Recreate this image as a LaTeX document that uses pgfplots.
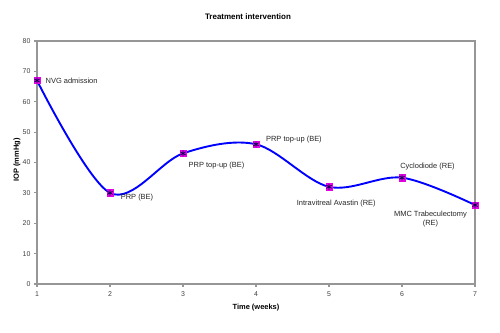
\documentclass[border=0pt]{standalone}
\usepackage{fontspec}
\setmainfont{Liberation Sans}
\usepackage{pgfplots}
\pgfplotsset{compat=1.18}
\definecolor{linblue}{RGB}{0,0,255}
\definecolor{mkmag}{RGB}{230,0,230}
\definecolor{axgray}{RGB}{150,150,150}
\begin{document}
\begin{tikzpicture}
\begin{axis}[
  at={(0,0)}, anchor=south west,
  scale only axis, width=438bp, height=243bp,
  xmin=1, xmax=7, ymin=0, ymax=80,
  xtick={1,...,7}, ytick={0,10,...,80},
  axis line style={draw=none},
  tick style={draw=axgray, line width=1.2bp},
  major tick length=3bp,
  xtick pos=bottom, ytick pos=left,
  tick align=outside,
  ticklabel style={font=\fontsize{7}{8}\selectfont, text=black!75},
  xticklabel style={yshift=-1.5bp},
  /pgf/number format/assume math mode=true,
  clip=false,
]
\draw[axgray, line width=1.2bp] (rel axis cs:0,0) rectangle (rel axis cs:1,1);
\addplot[linblue, line width=1.9pt, smooth, tension=0.55] coordinates {
 (1,67) (2,30) (3,43) (4,46) (5,32) (6,35) (7,26)};
\addplot[only marks, mark=square*, mark size=3.2bp, mark options={fill=mkmag, draw=mkmag}] coordinates {
 (1,67) (2,30) (3,43) (4,46) (5,32) (6,35) (7,26)};
\addplot[only marks, mark=asterisk, mark size=3bp, mark options={draw=black!70!blue, line width=0.7pt}] coordinates {
 (1,67) (2,30) (3,43) (4,46) (5,32) (6,35) (7,26)};
\begin{scope}[every node/.style={font=\fontsize{7.5}{9}\selectfont, text=black!85}]
\node[anchor=west] at (axis cs:1.07,67) {NVG admission};
\node[anchor=west] at (axis cs:2.1,28.5) {PRP (BE)};
\node[anchor=west] at (axis cs:3.03,39) {PRP top-up (BE)};
\node[anchor=west] at (axis cs:4.09,47.5) {PRP top-up (BE)};
\node[anchor=center] at (axis cs:5.1,26.5) {Intravitreal Avastin (RE)};
\node[anchor=center] at (axis cs:6.35,38.5) {Cyclodiode (RE)};
\node[align=center, anchor=center] at (axis cs:6.39,21.5) {MMC Trabeculectomy\\(RE)};
\end{scope}
\end{axis}
\node[font=\bfseries\fontsize{8}{9}\selectfont] at (211bp,267bp) {Treatment intervention};
\node[font=\bfseries\fontsize{7.5}{9}\selectfont] at (219bp,-24bp) {Time (weeks)};
\node[font=\bfseries\fontsize{7.5}{9}\selectfont, rotate=90] at (-20bp,124bp) {IOP (mmHg)};
\pgfresetboundingbox
\path[use as bounding box] (-37bp,-49bp) rectangle (463bp,284bp);
\end{tikzpicture}
\end{document}
